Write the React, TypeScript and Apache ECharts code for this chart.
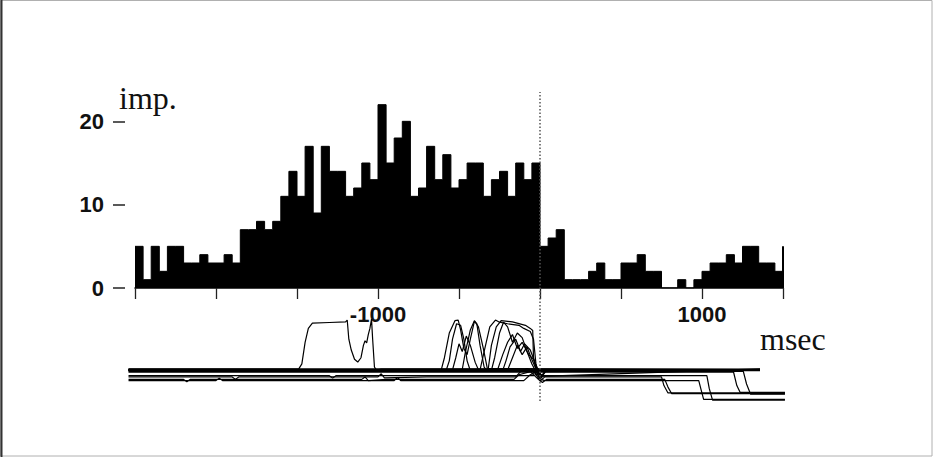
import React, { useEffect, useRef } from "react";
import * as echarts from "echarts";

// Histogram: 80 bins of 50 ms, from -2500 ms to +1500 ms (event at 0)
const binStart = -2500;
const binWidth = 50;
const counts = [
  5, 1, 5, 2, 5, 5, 3, 3, 4, 3,
  3, 4, 3, 7, 7, 8, 7, 8, 11, 14,
  11, 17, 9, 17, 14, 14, 11, 12, 15, 13,
  22, 15, 18, 20, 11, 12, 17, 13, 16, 12,
  13, 15, 15, 11, 13, 14, 11, 15, 13, 15,
  5, 6, 7, 1, 1, 1, 2, 3, 1, 1,
  3, 3, 4, 2, 2, 0, 0, 1, 0, 1,
  2, 3, 3, 4, 3, 5, 5, 3, 3, 2,
];
const lastEdgeValue = 5;
const yTicks = [0, 10, 20];
const xLabelled = [-1000, 1000];

// Movement traces (time ms, amplitude a.u.)
const traceA = [[-2540,10.3],[-1490,10.3],[-1470,12],[-1450,19],[-1430,23.5],[-1405,25.2],[-1300,25.4],[-1200,25.6],[-1190,26.2],[-1180,20],[-1165,16.5],[-1145,13.5],[-1125,12.6],[-1105,14],[-1090,18],[-1080,19.5],[-1070,18.8],[-1060,21.5],[-1050,23.5],[-1040,26.5],[-1033,20],[-1022,11],[-1010,10],[-980,10.3],[1358,10.3]];
const traceC1 = [[-2540,10],[-610,10],[-590,14],[-560,22],[-525,26],[-505,26.2],[-490,23],[-470,17],[-450,15],[-430,20],[-405,25.8],[-390,25],[-370,18],[-345,11],[-330,10],[1358,10]];
const traceC2 = [[-2540,10.2],[-480,10.2],[-460,16],[-430,23],[-405,26],[-380,24],[-350,17],[-325,10.5],[1358,10.2]];
const traceC3 = [[-2540,9.8],[-580,9.8],[-560,13],[-540,20],[-515,25],[-490,24.5],[-470,20],[-450,13],[-430,9.8],[1358,9.8]];
const traceC4 = [[-2540,10.1],[-370,10.1],[-345,16],[-310,24],[-275,26.2],[-250,25.5],[-200,25],[-130,24.5],[-100,23.5],[-60,22.5],[-40,20],[-25,12],[-10,9],[10,7.5],[30,9.5],[1358,10.1]];
const traceC5 = [[-2540,9.9],[-300,9.9],[-280,14],[-250,22],[-225,25.5],[-200,24],[-170,19],[-140,22],[-110,20.5],[-80,16],[-50,12],[-20,9],[0,7],[20,8.5],[40,9.9],[1358,9.9]];
const traceC6 = [[-2540,10.4],[-260,10.4],[-230,15],[-200,19],[-170,21.5],[-140,17],[-110,19],[-70,15],[-40,13.5],[-15,10],[5,8],[1358,10.4]];
const traceC7 = [[-2540,10],[-200,10],[-170,14],[-140,18],[-110,15],[-80,17.5],[-55,14],[-30,11],[0,9.5],[25,10],[1358,10]];
const traceC8 = [[-2540,10.2],[-320,10.2],[-300,18],[-270,24],[-240,26],[-170,25.6],[-90,24.5],[-60,23.5],[-45,22.8],[-40,14],[-25,10.2],[1358,10.2]];
const traceC9 = [[-2540,10.1],[-540,10.1],[-520,14],[-500,18.5],[-480,16],[-455,21],[-430,18],[-400,12.5],[-380,10.1],[1358,10.1]];
const traceC10 = [[-2540,9.9],[-230,9.9],[-210,13],[-185,17.5],[-150,20],[-120,16],[-95,18.5],[-60,16.5],[-35,13],[-12,10],[10,8.2],[35,9.9],[1358,9.9]];
const traceL1 = [[-2540,7.8],[-1900,7.8],[-1880,7],[-1860,7.8],[-1000,7.8],[-980,8.8],[-960,7.5],[-700,7.8],[-150,7.8],[-120,9.5],[-80,10.5],[-30,9],[0,6.5],[30,7.8],[750,7.8],[765,5],[790,2.6],[1512,2.6]];
const traceL2 = [[-2540,7.0],[-2200,7.0],[-2180,6.2],[-2160,7.0],[-1100,7.0],[-1080,7.8],[-1060,6.6],[-950,7.0],[-160,7.0],[-130,8.5],[-60,9.5],[-10,7],[15,6],[40,7],[770,7],[790,4.5],[812,2.4],[1512,2.4]];
const traceL3 = [[-2540,6.6],[-2000,6.6],[-1980,7.4],[-1960,6.6],[-900,6.6],[-880,7.6],[-860,6.6],[-100,6.6],[-60,8.5],[-20,9.5],[5,7],[30,6.6],[980,6.6],[995,3.5],[1010,0.5],[1512,0.5]];
const traceL4 = [[-2540,8.2],[-1300,8.2],[-1280,7.4],[-1260,8.2],[-40,8.2],[-10,9],[20,8.2],[1030,8.2],[1045,4],[1065,0.3],[1512,0.3]];
const traceL5 = [[-2540,9.3],[1195,9.3],[1215,5],[1235,2.8],[1512,2.8]];
const traceL6 = [[-2540,9.6],[1255,9.6],[1275,5.5],[1300,2.2],[1512,2.2]];
const traces = [traceA, traceC1, traceC2, traceC3, traceC4, traceC5, traceC6, traceC7, traceC8, traceC9, traceC10, traceL1, traceL2, traceL3, traceL4, traceL5, traceL6];

const sans = '"Liberation Sans", Arial, sans-serif';
const serif = '"Liberation Serif", "Times New Roman", serif';

export default function App() {
  const ref = useRef<HTMLDivElement>(null);
  useEffect(() => {
    if (!ref.current) return;
    const chart = echarts.init(ref.current, null, { renderer: "svg" });
    const binEnd = binStart + binWidth * counts.length;
    // histogram as a stepped, filled outline: one point per bin start, plus the closing edge
    const histData = counts.map((c, i) => [binStart + binWidth * i, c]);
    histData.push([binEnd, counts[counts.length - 1]]);
    const traceSeries = traces.map((t, i) => ({
      type: "line",
      name: "trace" + i,
      xAxisIndex: 1,
      yAxisIndex: 1,
      data: t,
      symbol: "none",
      silent: true,
      clip: false,
      lineStyle: { color: "#000", width: 1.2 },
      ...(i === 0
        ? {
            markLine: {
              silent: true,
              symbol: "none",
              label: { show: false },
              lineStyle: { color: "#555", type: [1.5, 2], width: 1.5 },
              data: [{ xAxis: 0 }],
            },
          }
        : {}),
    }));
    chart.setOption({
      animation: false,
      backgroundColor: "#fff",
      grid: [
        { left: 135, right: 150, top: 88, bottom: 169 },
        { left: 118.8, right: 133.8, top: 92, bottom: 56 },
      ],
      xAxis: [
        {
          type: "value",
          gridIndex: 0,
          position: "bottom",
          min: -2500,
          max: 1500,
          interval: 500,
          splitLine: { show: false },
          axisLine: { onZero: false, lineStyle: { color: "#000", width: 1.5 } },
          axisTick: { length: 11, lineStyle: { color: "#222", width: 1.3 } },
          axisLabel: {
            margin: 15,
            fontSize: 22,
            fontWeight: "bold",
            fontFamily: sans,
            color: "#111",
            formatter: (v: number) => (xLabelled.includes(v) ? String(v) : ""),
          },
        },
        { type: "value", gridIndex: 1, min: -2600, max: 1600, show: false },
      ],
      yAxis: [
        {
          type: "value",
          gridIndex: 0,
          position: "left",
          min: 0,
          max: 24,
          interval: 10,
          offset: 10,
          splitLine: { show: false },
          axisLine: { show: false, onZero: false },
          axisTick: { show: true, length: 12, customValues: yTicks, lineStyle: { color: "#222", width: 1.5 } },
          axisLabel: { margin: 21, fontSize: 22, fontWeight: "bold", fontFamily: sans, color: "#111", customValues: yTicks },
        },
        { type: "value", gridIndex: 1, min: 0, max: 100, show: false },
      ],
      series: [
        {
          type: "line",
          name: "impulses",
          xAxisIndex: 0,
          yAxisIndex: 0,
          data: histData,
          step: "end",
          symbol: "none",
          silent: true,
          lineStyle: { color: "#000", width: 1 },
          areaStyle: { color: "#000", opacity: 1 },
        },
        {
          type: "line",
          name: "edge",
          xAxisIndex: 0,
          yAxisIndex: 0,
          data: [[binEnd, 0], [binEnd, lastEdgeValue]],
          symbol: "none",
          silent: true,
          lineStyle: { color: "#000", width: 2 },
        },
        ...traceSeries,
      ],
      graphic: [
        {
          type: "rect",
          shape: { x: 0.5, y: 0.5, width: 931.5, height: 455.5 },
          style: { fill: "none", stroke: "#b0b0b0", lineWidth: 1 },
          silent: true,
        },
        {
          type: "line",
          shape: { x1: 1.5, y1: 0, x2: 1.5, y2: 457 },
          style: { stroke: "#333", lineWidth: 2 },
          silent: true,
        },
        {
          type: "text",
          x: 119,
          y: 97.5,
          style: { text: "imp.", font: `32px ${serif}`, fill: "#111", verticalAlign: "middle", align: "left" },
        },
        {
          type: "text",
          x: 760,
          y: 339,
          style: { text: "msec", font: `32px ${serif}`, fill: "#111", verticalAlign: "middle", align: "left" },
        },
      ],
    });
    return () => chart.dispose();
  }, []);
  return (
    <div
      ref={ref}
      style={{ position: "fixed", left: 0, top: 0, width: 933, height: 457, background: "#fff" }}
    />
  );
}
